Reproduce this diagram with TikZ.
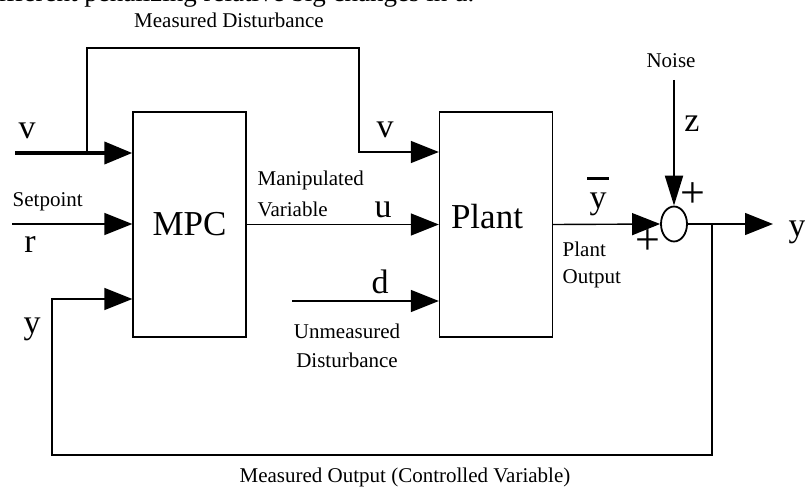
\documentclass[tikz,border=0pt]{standalone}
\usepackage{fontspec}
\setmainfont{Liberation Serif}
\usetikzlibrary{arrows.meta,shapes.geometric}

\begin{document}
\begin{tikzpicture}[
  x=1pt,y=-1pt,
  line width=1.4pt,
  block/.style={draw,minimum width=113pt,minimum height=225pt,inner sep=0pt},
  sumnode/.style={draw,ellipse,line width=1.8pt,minimum width=26pt,minimum height=35pt,inner sep=0pt},
  sig/.style={font=\fontsize{34}{36}\selectfont,anchor=base,inner sep=0pt},
  lbl/.style={font=\fontsize{21}{30}\selectfont,inner sep=0pt},
  feed/.style={-{Triangle[length=28pt,width=22pt]}}
]
  \useasboundingbox (0,0) rectangle (805,489);

  \node[anchor=base west,inner sep=0pt,font=\fontsize{27}{30}\selectfont] (cut) at (-2,2)
    {ifferent penalizing relative big changes in u.};

  \node[block] (mpc) at (189.5,224.5) {};
  \node[block] (plant) at (496,224.5) {};
  \node[sumnode] (sum) at (674,224) {};
  \node[sig,anchor=center,font=\fontsize{35}{38}\selectfont] (mpctext) at (mpc) {MPC};
  \node[sig,anchor=center,font=\fontsize{35}{38}\selectfont] (planttext) at (487,217) {Plant};

  \coordinate (vin) at (15,153);
  \coordinate (vbr) at (87,153);
  \coordinate (ffa) at (359,48);
  \coordinate (ffb) at (359,152);
  \coordinate (rin) at (12,224);
  \coordinate (din) at (292,301);
  \coordinate (ytap) at (712,224);
  \coordinate (ybot) at (52,455);
  \coordinate (yfb) at (52,299);
  \coordinate (zin) at (674,80);
  \coordinate (yout) at (773,224);

  \draw[feed,line width=4pt] (vin) -- (vin -| mpc.west);
  \draw[feed] (vbr) |- (ffa) -- (ffb) -- (ffb -| plant.west);
  \draw[feed] (rin) -- (rin -| mpc.west);
  \draw[feed] (mpc.east) -- (plant.west);
  \draw[feed] (din) -- (din -| plant.west);
  \draw[feed] (ytap) |- (ybot) -- (yfb) -- (yfb -| mpc.west);
  \draw[feed] (plant.east) -- (sum.west);
  \draw[-{Triangle[length=30pt,width=18pt]},line width=2pt] (zin) -- (sum.north);
  \draw[feed] (sum.east) -- (yout);

  \node[lbl,anchor=base] (mdist) at (229,28) {Measured Disturbance};
  \node[lbl,anchor=base] (mout) at (405,482) {Measured Output (Controlled Variable)};
  \node[lbl,anchor=base] (noise) at (671,68) {Noise};
  \node[lbl,anchor=base west] (setp) at (12,207) {Setpoint};
  \node[lbl,anchor=north west,align=left,font=\fontsize{21}{31}\selectfont] (manip) at (257,170)
    {Manipulated\\Variable};
  \node[lbl,anchor=north,align=center,font=\fontsize{21}{29}\selectfont] (udist) at (347,323)
    {Unmeasured\\Disturbance};
  \node[lbl,anchor=north west,align=left,font=\fontsize{21}{27}\selectfont] (pout) at (562,241)
    {Plant\\Output};

  \node[sig] (vl) at (27,139) {v};
  \node[sig] (vp) at (385,138) {v};
  \node[sig] (rl) at (30,252) {r};
  \node[sig] (yl) at (32,333) {y};
  \node[sig] (ul) at (383,217) {u};
  \node[sig] (dl) at (380,293) {d};
  \node[sig] (zl) at (692,132) {z};
  \node[sig] (ybar) at (598,208) {y};
  \draw[line width=2.5pt] ([xshift=-11pt,yshift=13pt]ybar.north) -- ([xshift=11pt,yshift=13pt]ybar.north);
  \node[sig] (yr) at (797,236) {y};
  \node[sig,anchor=center,font=\fontsize{44}{46}\selectfont] (pl1) at (648,242) {+};
  \node[sig,anchor=center,font=\fontsize{44}{46}\selectfont] (pl2) at (693,195) {+};
\end{tikzpicture}
\end{document}
